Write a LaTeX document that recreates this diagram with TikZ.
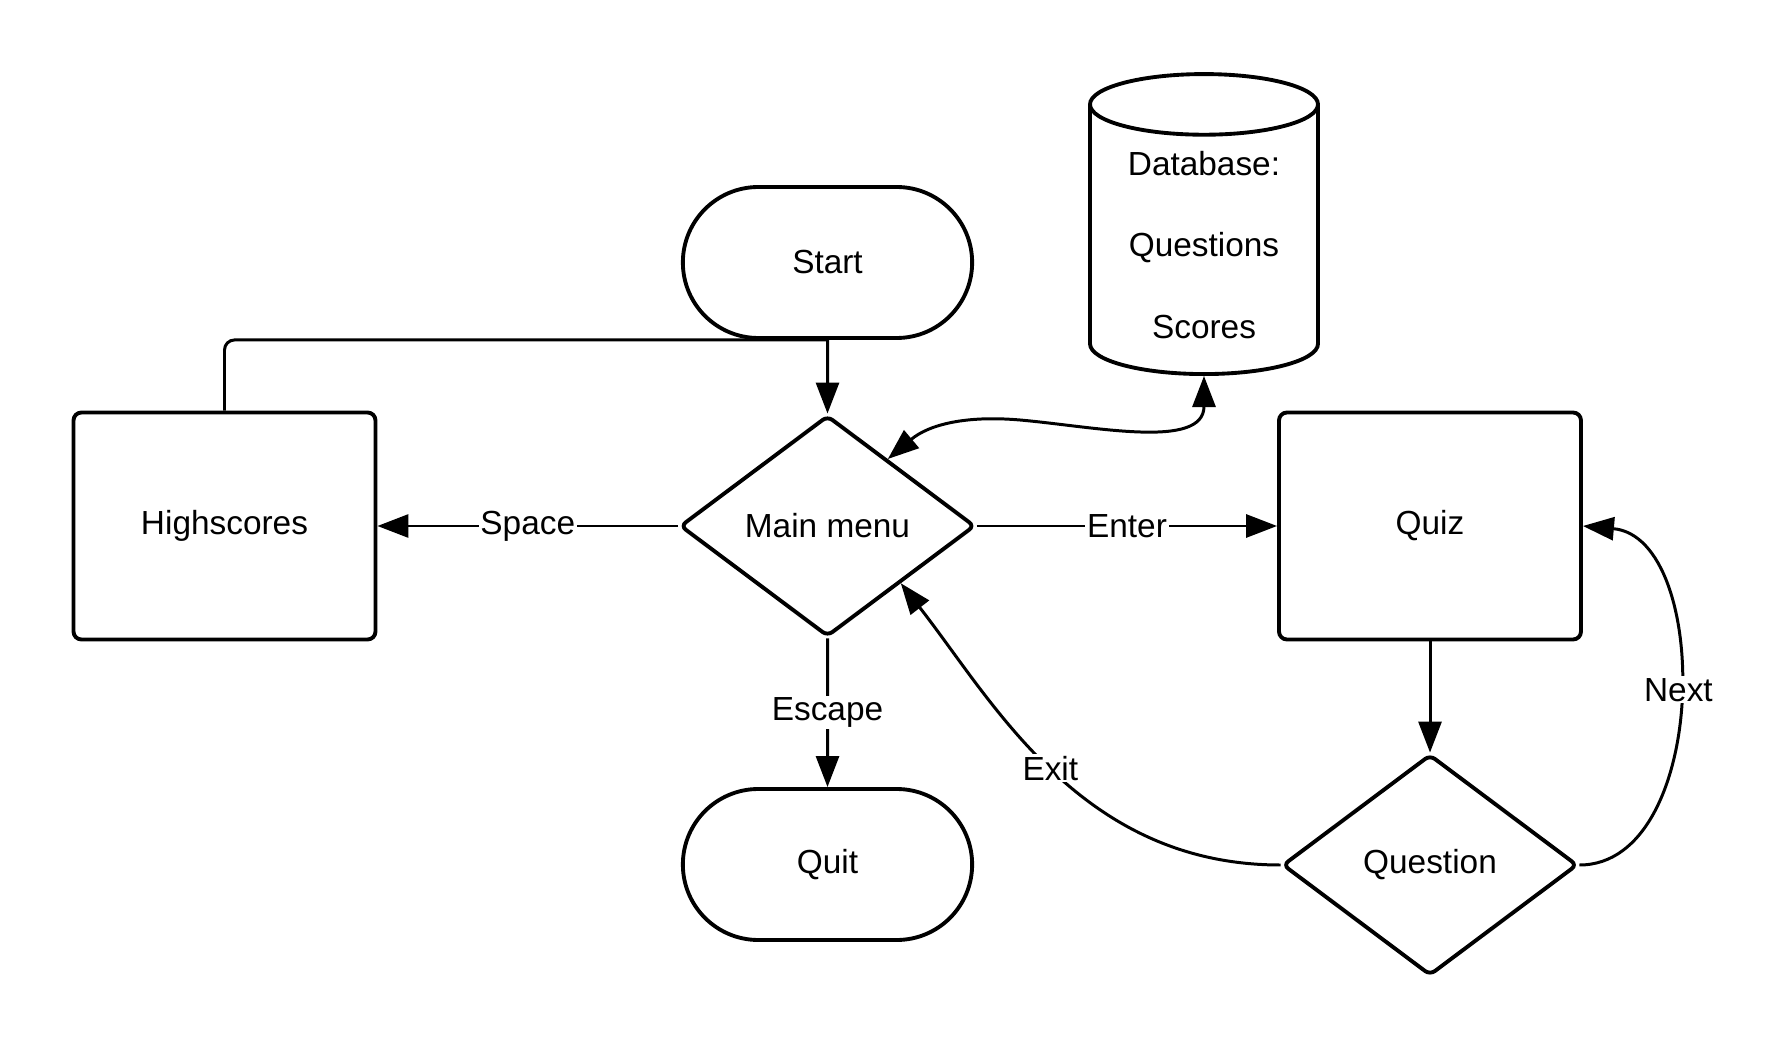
\documentclass[tikz,border=0pt]{standalone}
\usepackage{fontspec}
\setmainfont{Liberation Sans}
\usetikzlibrary{arrows.meta,positioning,shapes.geometric,shapes.misc}

\tikzset{
	>={Triangle[length=0.62cm,width=0.46cm]},
	terminal/.style={rounded rectangle, draw, line width=2.2pt, minimum width=6.02cm, minimum height=3.02cm},
	process/.style={rectangle, draw, line width=2.2pt, rounded corners=0.16cm, minimum width=6.04cm, minimum height=4.54cm},
	decision/.style={diamond, draw, line width=2.2pt, rounded corners=0.12cm, minimum width=5.9cm, minimum height=4.42cm, inner sep=0pt},
	store/.style={cylinder, shape border rotate=90, draw, line width=2.2pt, aspect=0.37, minimum width=4.56cm, minimum height=6.0cm, align=center},
	lbl/.style={fill=white, inner sep=1pt},
}

\begin{document}
\begin{tikzpicture}[font=\fontsize{19}{23}\selectfont, node distance=5cm, on grid, line width=1.7pt]
		\useasboundingbox (0,0) rectangle (35.7,21);
		\node[decision] (menu) at (16.55,10.48) {Main menu};
		\node[terminal] (start) [above=5.27cm of menu] {Start};
		\node[terminal] (quit) [below=6.77cm of menu] {Quit};
		\node[process] (hs) [left=12.06cm of menu] {Highscores};
		\node[process] (quiz) [right=12.05cm of menu] {Quiz};
		\node[decision] (question) [below=6.78cm of quiz] {Question};
		\node[store] (db) [above right=5.62cm and 7.53cm of menu] {Database:\\[0.82cm]Questions\\[0.82cm]Scores};
		\draw[rounded corners=0.2cm] (hs.north) |- (start.south);
		\draw[<->] (menu.48) to[out=40, in=175] (20.4,12.6) to[out=-5, in=-90] (db.south);
		\path[->]
			(start)
				edge (menu)
			(menu)
				edge node[lbl] {Space} (hs)
				edge node[lbl] {Enter} (quiz)
				edge node[lbl] {Escape} (quit)
			(quiz)
				edge (question)
			(question)
				edge [out=180, in=-52, out distance=4cm, in distance=3cm] node[lbl] {Exit} (menu.-38)
				edge [out=0, in=-5, out distance=2.6cm, in distance=2.6cm] node[lbl, pos=0.52] {Next} (quiz.east) ;
	\end{tikzpicture}
\end{document}
